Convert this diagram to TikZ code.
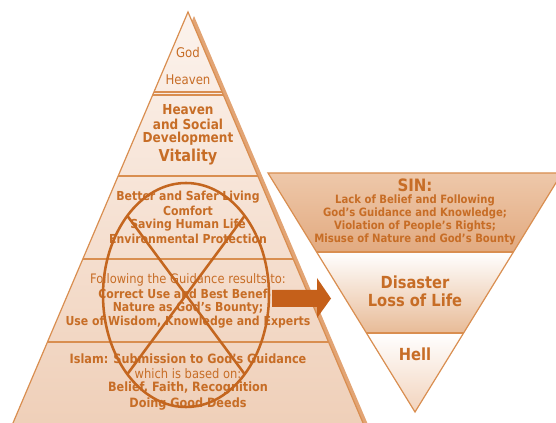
\documentclass[tikz,border=0pt]{standalone}
\usepackage{fontspec}
\setmainfont{DejaVu Sans}[FakeStretch=0.88]
\definecolor{txt}{HTML}{C76D26}
\definecolor{edge}{HTML}{D98E50}
\definecolor{shad}{HTML}{E2A474}
\definecolor{xcol}{HTML}{C4661F}
\definecolor{arr}{HTML}{C5601A}
\definecolor{pyrtop}{HTML}{FCF3ED}
\definecolor{pyrbot}{HTML}{EFCFB8}
\definecolor{sintop}{HTML}{EEC8AA}
\definecolor{sinbot}{HTML}{E2AA80}
\definecolor{disbot}{HTML}{E8BB97}
\definecolor{helbot}{HTML}{F2D3BC}
\begin{document}
\begin{tikzpicture}[x=0.75pt,y=-0.75pt,
  lbl/.style={text=txt, inner sep=0pt, anchor=center},
  boldtxt/.style={lbl, font=\bfseries\fontsize{#1}{#1}\selectfont},
  regtxt/.style={lbl, font=\fontsize{#1}{#1}\selectfont},
  outline/.style={draw=edge, line width=0.9pt},
  sepline/.style={draw=edge, line width=0.8pt},
  cross/.style={draw=xcol, line width=1.9pt},
]
\useasboundingbox (0,0) rectangle (556,423);
\clip (0,0) rectangle (556,423);

% ---- pyramid shadow
\fill[shad] (194,16) -- (372,434) -- (16,434) -- cycle;

% ---- pyramid
\begin{scope}
  \clip (188,12) -- (366,430) -- (10,430) -- cycle;
  \shade[top color=pyrtop, bottom color=pyrbot] (0,12) rectangle (400,430);
  \draw[sepline] (0,92) -- (400,92);
  \draw[sepline] (0,95) -- (400,95);
  \draw[sepline] (0,176) -- (400,176);
  \draw[sepline] (0,259) -- (400,259);
  \draw[sepline] (0,342) -- (400,342);
\end{scope}
\draw[outline] (188,12) -- (366,430) -- (10,430) -- cycle;

% ---- inverted triangle
\begin{scope}
  \clip (268,173) -- (562,173) -- (415,412) -- cycle;
  \shade[top color=sintop, bottom color=sinbot] (260,173) rectangle (570,252);
  \shade[top color=white, bottom color=disbot] (260,252) rectangle (570,333);
  \shade[top color=white, bottom color=helbot] (260,333) rectangle (570,413);
  \draw[draw=edge, line width=1.6pt] (260,252) -- (570,252);
  \draw[sepline] (260,333) -- (570,333);
\end{scope}
\draw[outline] (268,173) -- (562,173) -- (415,412) -- cycle;

% ---- pyramid texts
\node[regtxt=10] (god) at (188,53) {God};
\node[regtxt=10] (heaven1) at (188,80) {Heaven};
\node[boldtxt=10.3] (heaven2) at (188,110) {Heaven};
\node[boldtxt=10.3] (social) at (188,124) {and Social};
\node[boldtxt=10.3] (devel) at (188,139) {Development};
\node[boldtxt=12.3] (vital) at (188,157) {Vitality};
\node[boldtxt=9.3] (better) at (188,197) {Better and Safer Living};
\node[boldtxt=9.3] (comfort) at (188,211) {Comfort};
\node[boldtxt=9.3] (saving) at (188,225) {Saving Human Life};
\node[boldtxt=9.3] (env) at (188,239) {Environmental Protection};
\node[regtxt=9.8] (follow) at (188,280) {Following the Guidance results to:};
\node[boldtxt=9.3, anchor=west] (correct) at (98,294) {Correct Use and Best Benef};
\node[boldtxt=9.3] (nature) at (188,308) {Nature as God’s Bounty;};
\node[boldtxt=9.3] (wisdom) at (188,322) {Use of Wisdom, Knowledge and Experts};
\node[boldtxt=9.6] (islam) at (188,359) {Islam: Submission to God’s Guidance};
\node[regtxt=9.8] (based) at (188,374) {which is based on:};
\node[boldtxt=9.6] (belief) at (188,388) {Belief, Faith, Recognition};
\node[boldtxt=9.6] (deeds) at (188,404) {Doing Good Deeds};

% ---- right texts
\node[boldtxt=12.8] (sin) at (415,185) {SIN:};
\node[boldtxt=8.6] (lack) at (415,200) {Lack of Belief and Following};
\node[boldtxt=8.6] (guid) at (415,213) {God’s Guidance and Knowledge;};
\node[boldtxt=8.6] (viol) at (415,226) {Violation of People’s Rights;};
\node[boldtxt=8.6] (misuse) at (415,239) {Misuse of Nature and God’s Bounty};
\node[boldtxt=12.5] (disaster) at (415,282) {Disaster};
\node[boldtxt=12.5] (loss) at (415,300) {Loss of Life};
\node[boldtxt=12.5] (hell) at (415,354) {Hell};

% ---- crossed ellipse
\draw[cross] (186,295) ellipse [x radius=83, y radius=112];
\draw[cross] (127.3,215.8) -- (244.7,374.2);
\draw[cross] (244.7,215.8) -- (127.3,374.2);

% ---- block arrow
\fill[arr] (272,290) -- (317,290) -- (317,278) -- (331,298.5) -- (317,318) -- (317,307) -- (272,307) -- cycle;
\end{tikzpicture}
\end{document}
